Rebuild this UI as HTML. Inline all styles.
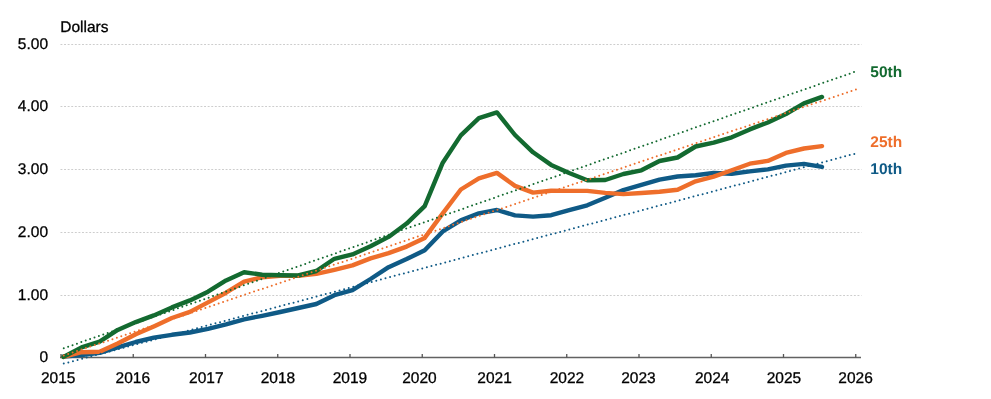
<!DOCTYPE html>
<html><head><meta charset="utf-8"><style>
html,body{margin:0;padding:0;background:#fff;width:991px;height:399px;overflow:hidden;}
svg{display:block;will-change:transform;}
text{font-family:"Liberation Sans",sans-serif;text-rendering:geometricPrecision;}
</style></head><body>
<svg width="991" height="399" viewBox="0 0 991 399">
<line x1="60.5" y1="44.5" x2="861.5" y2="44.5" stroke="#cdcdcd" stroke-width="1" stroke-dasharray="1.9 1.69"/>
<line x1="60.5" y1="106.5" x2="861.5" y2="106.5" stroke="#cdcdcd" stroke-width="1" stroke-dasharray="1.9 1.69"/>
<line x1="60.5" y1="169.5" x2="861.5" y2="169.5" stroke="#cdcdcd" stroke-width="1" stroke-dasharray="1.9 1.69"/>
<line x1="60.5" y1="232.5" x2="861.5" y2="232.5" stroke="#cdcdcd" stroke-width="1" stroke-dasharray="1.9 1.69"/>
<line x1="60.5" y1="295.5" x2="861.5" y2="295.5" stroke="#cdcdcd" stroke-width="1" stroke-dasharray="1.9 1.69"/>
<line x1="60" y1="357.45" x2="861" y2="357.45" stroke="#626262" stroke-width="1.4"/>
<line x1="61.00" y1="354" x2="61.00" y2="357.5" stroke="#555" stroke-width="1.3"/>
<line x1="133.25" y1="354" x2="133.25" y2="357.5" stroke="#555" stroke-width="1.3"/>
<line x1="205.50" y1="354" x2="205.50" y2="357.5" stroke="#555" stroke-width="1.3"/>
<line x1="277.75" y1="354" x2="277.75" y2="357.5" stroke="#555" stroke-width="1.3"/>
<line x1="350.00" y1="354" x2="350.00" y2="357.5" stroke="#555" stroke-width="1.3"/>
<line x1="422.25" y1="354" x2="422.25" y2="357.5" stroke="#555" stroke-width="1.3"/>
<line x1="494.50" y1="354" x2="494.50" y2="357.5" stroke="#555" stroke-width="1.3"/>
<line x1="566.75" y1="354" x2="566.75" y2="357.5" stroke="#555" stroke-width="1.3"/>
<line x1="639.00" y1="354" x2="639.00" y2="357.5" stroke="#555" stroke-width="1.3"/>
<line x1="711.25" y1="354" x2="711.25" y2="357.5" stroke="#555" stroke-width="1.3"/>
<line x1="783.50" y1="354" x2="783.50" y2="357.5" stroke="#555" stroke-width="1.3"/>
<line x1="855.75" y1="354" x2="855.75" y2="357.5" stroke="#555" stroke-width="1.3"/>
<polyline points="63.50,356.50 81.56,355.00 99.62,352.80 117.68,347.30 135.74,342.00 153.80,337.60 171.86,334.80 189.92,332.50 207.98,328.90 226.04,324.40 244.10,319.30 262.16,315.80 280.22,312.00 298.28,308.00 316.34,304.00 334.40,295.20 352.46,290.20 370.52,279.00 388.58,267.20 406.64,259.10 424.70,250.30 442.76,231.40 460.82,220.40 478.88,213.30 496.94,210.00 515.00,215.40 533.06,216.60 551.12,215.20 569.18,210.20 587.24,205.30 605.30,197.80 623.36,190.10 641.42,184.90 659.48,179.70 677.54,176.50 695.60,175.30 713.66,173.00 731.72,173.80 749.78,171.40 767.84,169.40 785.90,165.60 803.96,163.90 822.02,166.90" fill="none" stroke="#0f5a86" stroke-width="4.4" stroke-linejoin="round" stroke-linecap="round"/>
<polyline points="63.50,356.90 81.56,352.20 99.62,351.80 117.68,343.50 135.74,334.20 153.80,326.40 171.86,318.00 189.92,311.90 207.98,302.40 226.04,292.70 244.10,281.60 262.16,277.20 280.22,275.90 298.28,275.90 316.34,273.90 334.40,269.80 352.46,265.40 370.52,258.40 388.58,253.10 406.64,246.60 424.70,237.90 442.76,213.40 460.82,189.50 478.88,178.40 496.94,172.90 515.00,185.90 533.06,192.60 551.12,190.80 569.18,190.90 587.24,190.90 605.30,192.90 623.36,194.10 641.42,193.00 659.48,191.80 677.54,189.80 695.60,181.30 713.66,176.60 731.72,170.20 749.78,163.70 767.84,160.90 785.90,152.90 803.96,148.50 822.02,146.10" fill="none" stroke="#ee6e2b" stroke-width="4.4" stroke-linejoin="round" stroke-linecap="round"/>
<polyline points="63.50,356.90 81.56,347.40 99.62,341.70 117.68,329.90 135.74,322.10 153.80,315.40 171.86,307.40 189.92,300.40 207.98,291.70 226.04,280.40 244.10,272.20 262.16,274.70 280.22,275.20 298.28,275.50 316.34,271.00 334.40,258.80 352.46,254.40 370.52,246.20 388.58,236.90 406.64,223.60 424.70,206.10 442.76,162.70 460.82,135.40 478.88,118.10 496.94,112.40 515.00,135.00 533.06,152.30 551.12,164.90 569.18,173.00 587.24,180.30 605.30,180.00 623.36,174.00 641.42,170.30 659.48,161.00 677.54,157.50 695.60,146.50 713.66,142.70 731.72,137.30 749.78,129.40 767.84,122.50 785.90,114.00 803.96,103.40 822.02,96.90" fill="none" stroke="#136a30" stroke-width="4.4" stroke-linejoin="round" stroke-linecap="round"/>
<line x1="63.76" y1="348.26" x2="855.317" y2="71.640" stroke="#136a30" stroke-width="2.0" stroke-linecap="round" stroke-dasharray="0 4.65058"/>
<line x1="63.76" y1="355.5" x2="857.228" y2="89.054" stroke="#ee6e2b" stroke-width="2.0" stroke-linecap="round" stroke-dasharray="0 4.66820"/>
<line x1="63.76" y1="363.6" x2="855.679" y2="153.534" stroke="#0f5a86" stroke-width="2.0" stroke-linecap="round" stroke-dasharray="0 4.75512"/>
<text x="48" y="48.65" text-anchor="end" font-size="15.5" fill="#000" stroke="#000" stroke-width="0.3">5.00</text>
<text x="48" y="110.65" text-anchor="end" font-size="15.5" fill="#000" stroke="#000" stroke-width="0.3">4.00</text>
<text x="48" y="173.65" text-anchor="end" font-size="15.5" fill="#000" stroke="#000" stroke-width="0.3">3.00</text>
<text x="48" y="236.65" text-anchor="end" font-size="15.5" fill="#000" stroke="#000" stroke-width="0.3">2.00</text>
<text x="48" y="299.65" text-anchor="end" font-size="15.5" fill="#000" stroke="#000" stroke-width="0.3">1.00</text>
<text x="48" y="361.65" text-anchor="end" font-size="15.5" fill="#000" stroke="#000" stroke-width="0.3">0</text>
<text x="58.2" y="382.95" text-anchor="middle" font-size="15.5" fill="#000" stroke="#000" stroke-width="0.3">2015</text>
<text x="132.8" y="382.95" text-anchor="middle" font-size="15.5" fill="#000" stroke="#000" stroke-width="0.3">2016</text>
<text x="206.3" y="382.95" text-anchor="middle" font-size="15.5" fill="#000" stroke="#000" stroke-width="0.3">2017</text>
<text x="278" y="382.95" text-anchor="middle" font-size="15.5" fill="#000" stroke="#000" stroke-width="0.3">2018</text>
<text x="349.9" y="382.95" text-anchor="middle" font-size="15.5" fill="#000" stroke="#000" stroke-width="0.3">2019</text>
<text x="419.5" y="382.95" text-anchor="middle" font-size="15.5" fill="#000" stroke="#000" stroke-width="0.3">2020</text>
<text x="494.6" y="382.95" text-anchor="middle" font-size="15.5" fill="#000" stroke="#000" stroke-width="0.3">2021</text>
<text x="566.9" y="382.95" text-anchor="middle" font-size="15.5" fill="#000" stroke="#000" stroke-width="0.3">2022</text>
<text x="638.5" y="382.95" text-anchor="middle" font-size="15.5" fill="#000" stroke="#000" stroke-width="0.3">2023</text>
<text x="712.2" y="382.95" text-anchor="middle" font-size="15.5" fill="#000" stroke="#000" stroke-width="0.3">2024</text>
<text x="783.9" y="382.95" text-anchor="middle" font-size="15.5" fill="#000" stroke="#000" stroke-width="0.3">2025</text>
<text x="855.6" y="382.95" text-anchor="middle" font-size="15.5" fill="#000" stroke="#000" stroke-width="0.3">2026</text>
<text x="60.3" y="31.9" font-size="15.5" fill="#000" stroke="#000" stroke-width="0.3">Dollars</text>
<text x="870.3" y="77.4" font-weight="bold" font-size="15.5" fill="#136a30">50th</text>
<text x="870.3" y="146.7" font-weight="bold" font-size="15.5" fill="#ee6e2b">25th</text>
<text x="870.3" y="174" font-weight="bold" font-size="15.5" fill="#0f5a86">10th</text>
</svg>
</body></html>
